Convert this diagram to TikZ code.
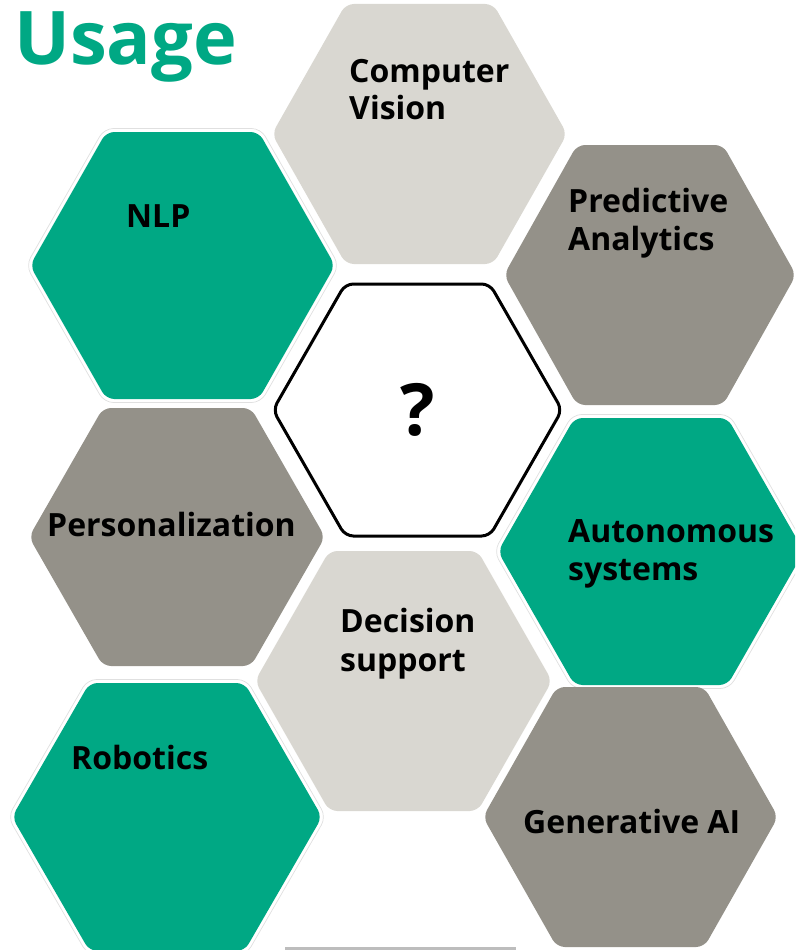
\documentclass[tikz,border=0pt]{standalone}
\usepackage{fontspec}
\setmainfont{Open Sans}
\definecolor{hgreen}{HTML}{00A884}
\definecolor{hdark}{HTML}{949189}
\definecolor{hlight}{HTML}{D9D7D1}
\definecolor{hline}{HTML}{BDBDBD}
\newcommand\hexshape[5]{%
  \path[#5] ({#1-(#3)},{#2}) -- ({#1-(#3)/2},{#2-(#4)}) -- ({#1+(#3)/2},{#2-(#4)}) -- ({#1+(#3)},{#2})
    -- ({#1+(#3)/2},{#2+(#4)}) -- ({#1-(#3)/2},{#2+(#4)}) -- cycle;}
\newcommand\greenhex[4]{%
  \hexshape{#1}{#2}{#3+4}{#4+3.5}{draw=black!12, line width=0.7pt, fill=white, rounded corners=9pt}%
  \hexshape{#1}{#2}{#3}{#4}{hexgreen}}
\tikzset{
  hexbase/.style={rounded corners=8pt},
  hexgreen/.style={hexbase, fill=hgreen},
  hexdark/.style={hexbase, fill=hdark},
  hexlight/.style={hexbase, fill=hlight},
  hexcenter/.style={hexbase, fill=white, draw=black, line width=3pt},
  lbl/.style={anchor=base west, inner sep=0pt, text=black, font=\bfseries\fontsize{32}{38}\selectfont},
  qmark/.style={anchor=base, inner sep=0pt, text=black, font=\bfseries\fontsize{72}{80}\selectfont},
  titletext/.style={anchor=base west, inner sep=0pt, text=hgreen, font=\bfseries\fontsize{74}{80}\selectfont},
}
\begin{document}
\begin{tikzpicture}[x=1pt,y=-1pt]
\useasboundingbox (0,0) rectangle (795,950);
\clip (0,0) rectangle (795,950);
% hexagons
\hexshape{419.5}{134}{147.5}{130}{hexlight}
\greenhex{182.5}{265.5}{152.5}{133.5}
\hexshape{650}{275}{146}{130}{hexdark}
\hexshape{417.5}{410}{144.5}{126}{hexcenter}
\hexshape{177}{537}{148}{129}{hexdark}
\greenhex{651}{551.5}{153}{133.5}
\hexshape{403.5}{681}{148.5}{130}{hexlight}
\greenhex{167}{817}{155}{134}
\hexshape{630.5}{817}{147.5}{130}{hexdark}
\fill[hline] (285,947) rectangle (516,951);
% title
\node[titletext] (title) at (14,65) {Usage};
% labels
\node[lbl] (cv1) at (349,82) {Computer};
\node[lbl] (cv2) at (349,119.5) {Vision};
\node[lbl] (nlp) at (126,227) {NLP};
\node[lbl] (pa1) at (568,212) {Predictive};
\node[lbl] (pa2) at (568,250) {Analytics};
\node[qmark] (q) at (418,435) {?};
\node[lbl] (pers) at (47,536) {Personalization};
\node[lbl] (au1) at (568,542) {Autonomous};
\node[lbl] (au2) at (568,580) {systems};
\node[lbl] (ds1) at (340,632) {Decision};
\node[lbl] (ds2) at (340,671) {support};
\node[lbl] (rob) at (71,769) {Robotics};
\node[lbl] (gen) at (523,833) {Generative AI};
\end{tikzpicture}
\end{document}
